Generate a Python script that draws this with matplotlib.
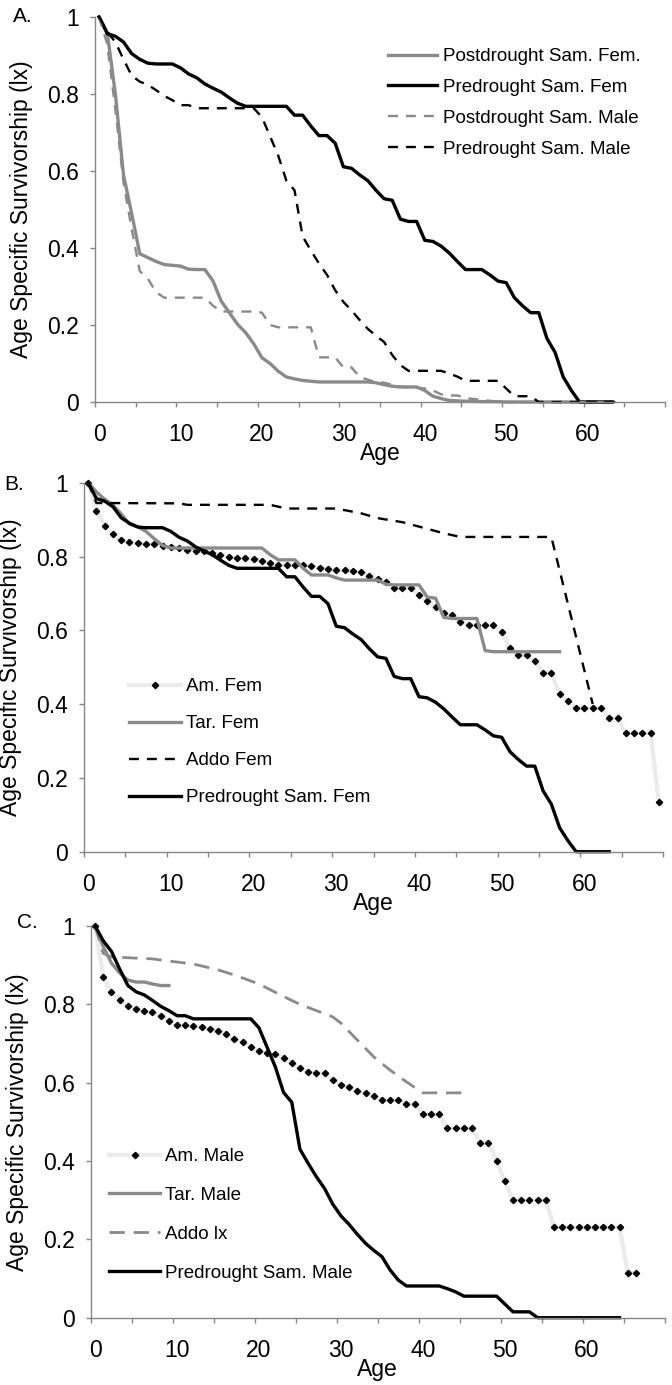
import numpy as np
import matplotlib.pyplot as plt
from matplotlib.lines import Line2D

plt.rcParams['font.family'] = ['Liberation Sans', 'DejaVu Sans']

# ---------------- data (lx) ----------------
# Samburu, one value per year of age
pre_fem_lx = [1.0, .957, .950, .935, .905, .890, .880, .878, .878, .878,
              .868, .852, .842, .826, .815, .805, .790, .776, .768, .768,
              .768, .768, .768, .768, .745, .745, .717, .692, .692, .672,
              .611, .607, .590, .575, .550, .528, .524, .475, .469, .469,
              .420, .417, .405, .387, .365, .344, .344, .344, .330, .314,
              .310, .271, .250, .232, .232, .165, .129, .065, .030, 0.0,
              0.0, 0.0, 0.0, 0.0]
pre_male_lx = [1.0, .962, .935, .890, .848, .832, .824, .810, .795, .784,
               .771, .771, .763, .763, .763, .763, .763, .763, .763, .763,
               .740, .690, .640, .575, .550, .430, .394, .360, .330, .290,
               .260, .238, .213, .190, .172, .156, .122, .096, .081, .081,
               .081, .081, .081, .074, .066, .055, .055, .055, .055, .055,
               .035, .015, .015, .015, 0.0, 0.0, 0.0, 0.0, 0.0, 0.0,
               0.0, 0.0, 0.0, 0.0, 0.0]
post_fem_lx = [1.0, .960, .800, .590, .490, .385, .375, .365, .357, .355,
               .353, .345, .344, .344, .314, .262, .232, .202, .180, .151,
               .115, .100, .080, .065, .060, .056, .054, .052, .052, .052,
               .052, .052, .052, .052, .050, .045, .041, .039, .039, .039,
               .030, .015, .009, .004, .003, .002, .002, .001, .001, .001,
               0.0, 0.0, 0.0, 0.0, 0.0, 0.0, 0.0, 0.0, 0.0, 0.0,
               0.0, 0.0, 0.0, 0.0]
post_male_lx = [1.0, .930, .760, .570, .450, .340, .320, .285, .271, .271,
                .271, .271, .271, .271, .250, .235, .235, .235, .235, .235,
                .232, .200, .194, .194, .194, .194, .194, .116, .116, .116,
                .090, .090, .065, .058, .052, .050, .045, .040, .038, .037,
                .035, .030, .020, .017, .017, .010, .008, .005, .003, .001,
                0.0, 0.0, 0.0, 0.0, 0.0, 0.0, 0.0, 0.0, 0.0, 0.0,
                0.0, 0.0, 0.0, 0.0]

# Amboseli, Tarangire, Addo females
am_fem_lx = [1.0, .924, .884, .860, .845, .838, .836, .834, .834, .828,
             .825, .823, .818, .816, .814, .809, .805, .800, .795, .795,
             .793, .789, .782, .777, .777, .777, .777, .773, .768, .766,
             .764, .764, .760, .759, .746, .740, .730, .714, .714, .714,
             .696, .680, .664, .646, .642, .623, .614, .614, .614, .614,
             .596, .551, .533, .533, .518, .484, .484, .427, .409, .389,
             .389, .389, .389, .362, .362, .322, .322, .322, .322, .135]
tar_fem_lx = [1.0, .975, .955, .940, .915, .888, .880, .868, .848, .830,
              .823, .823, .823, .823, .823, .823, .823, .823, .823, .823,
              .823, .823, .805, .791, .791, .791, .768, .750, .750, .750,
              .742, .736, .736, .736, .736, .736, .725, .723, .723, .723,
              .723, .690, .687, .635, .632, .632, .632, .632, .545, .542,
              .542, .542, .542, .542, .542, .542, .542, .542]
addo_fem_age = [0, 1, 11, 12, 22, 24, 30, 33, 35, 38, 40, 43, 45, 56, 61]
addo_fem_lx = [1.0, .945, .944, .940, .940, .930, .930, .917, .904, .893,
               .881, .863, .853, .853, .400]

# Amboseli, Tarangire, Addo males
am_male_lx = [1.0, .871, .831, .810, .797, .788, .784, .780, .771, .758,
              .746, .746, .745, .741, .737, .733, .724, .711, .703, .690,
              .681, .677, .673, .664, .651, .637, .628, .624, .624, .607,
              .594, .588, .580, .573, .565, .556, .556, .556, .546, .546,
              .520, .520, .520, .484, .484, .484, .484, .447, .447, .400,
              .350, .300, .300, .300, .300, .300, .232, .232, .232, .232,
              .232, .232, .232, .232, .232, .115, .115]
tar_male_lx = [1.0, .947, .905, .880, .862, .857, .857, .852, .848, .848]
addo_male_age = [0, 1, 2, 7, 10, 12, 15, 17, 20, 23, 25, 29, 30, 32, 34,
                 36, 38, 40, 45]
addo_male_lx = [1.0, .930, .921, .916, .908, .903, .888, .875, .852, .820,
                .800, .768, .752, .709, .666, .632, .602, .574, .574]

x_label_ages = [0, 10, 20, 30, 40, 50, 60]
lx_ticks = [0, 0.2, 0.4, 0.6, 0.8, 1]
lx_tick_labels = ['0', '0.2', '0.4', '0.6', '0.8', '1']

# ---------------- styles ----------------
GREY = '#8a8a8a'
LIGHT = '#ebebeb'
AXIS = '#868686'
W, H = 672, 1385


def px_axes(left, right, top, bottom):
    return [left / W, 1 - bottom / H, (right - left) / W, (bottom - top) / H]


def style_axes(ax, width_px, height_px):
    for s in ['top', 'right']:
        ax.spines[s].set_visible(False)
    for s in ['left', 'bottom']:
        ax.spines[s].set_color(AXIS)
        ax.spines[s].set_linewidth(1.0)
    # category style axis: points in the middle of each one-year slot
    ax.set_xlim(-0.5, 69.5)
    ax.set_ylim(0, 1)
    ax.set_xticks(np.arange(-0.5, 70, 5))
    ax.set_xticklabels([])
    ax.set_xticks(x_label_ages, minor=True)
    ax.set_xticklabels([str(a) for a in x_label_ages], minor=True)
    ax.set_yticks(lx_ticks)
    ax.set_yticklabels(lx_tick_labels)
    ax.tick_params(axis='x', which='major', direction='out', length=3.5,
                   width=1.0, color=AXIS)
    ax.tick_params(axis='x', which='minor', length=0, pad=15, labelsize=16.5)
    ax.tick_params(axis='y', direction='out', length=3.5, width=1.0,
                   color=AXIS, pad=8, labelsize=16.5)
    ax.set_xlabel('Age', fontsize=16.5)
    ax.xaxis.set_label_coords(0.5, -40 / height_px)
    ax.set_ylabel('Age Specific Survivorship (lx)', fontsize=16.5)
    ax.yaxis.set_label_coords(-62 / width_px, 0.5)


fig = plt.figure(figsize=(W / 100, H / 100), dpi=100)

solid = dict(lw=2.4, solid_joinstyle='round', clip_on=False)
dash_k = dict(lw=1.7, ls=(0, (4.2, 3.4)), clip_on=False)

# ---------------- A. ----------------
axA = fig.add_axes(px_axes(95, 665, 17, 402))
axA.plot(np.arange(len(post_fem_lx)), post_fem_lx, color=GREY, **solid)
axA.plot(np.arange(len(pre_fem_lx)), pre_fem_lx, color='black', **solid)
axA.plot(np.arange(len(post_male_lx)), post_male_lx, color=GREY, **dash_k)
axA.plot(np.arange(len(pre_male_lx)), pre_male_lx, color='black', **dash_k)
style_axes(axA, 570, 385)
axA.legend(['Postdrought Sam. Fem.', 'Predrought Sam. Fem',
            'Postdrought Sam. Male', 'Predrought Sam. Male'],
           loc='upper left', bbox_to_anchor=(388 / W, 1 - 48 / H),
           bbox_transform=fig.transFigure, frameon=False, fontsize=13.5,
           handlelength=2.6, handletextpad=0.32, labelspacing=0.73,
           borderpad=0, borderaxespad=0)
fig.text(23 / W, 1 - 16 / H, 'A.', fontsize=15, ha='center', va='center')

# ---------------- B. ----------------
axB = fig.add_axes(px_axes(84, 663, 482.7, 851.7))
axB.plot(np.arange(len(am_fem_lx)), am_fem_lx, color=LIGHT, lw=3,
         marker='D', ms=3.2, mfc='black', mec='black', clip_on=False)
axB.plot(np.arange(len(tar_fem_lx)), tar_fem_lx, color=GREY, **solid)
axB.plot(addo_fem_age, addo_fem_lx, color='black', **dash_k)
axB.plot(np.arange(len(pre_fem_lx)), pre_fem_lx, color='black', **solid)
style_axes(axB, 579, 369)
axB.legend(['Am. Fem', 'Tar. Fem', 'Addo Fem', 'Predrought Sam. Fem'],
           loc='upper left', bbox_to_anchor=(129 / W, 1 - 678 / H),
           bbox_transform=fig.transFigure, frameon=False, fontsize=13.5,
           handlelength=2.75, handletextpad=0.27, labelspacing=1.06,
           borderpad=0, borderaxespad=0)
fig.text(14 / W, 1 - 484 / H, 'B.', fontsize=15, ha='center', va='center')

# ---------------- C. ----------------
axC = fig.add_axes(px_axes(91, 664.6, 926, 1317.7))
axC.plot(np.arange(len(am_male_lx)), am_male_lx, color=LIGHT, lw=3,
         marker='D', ms=3.2, mfc='black', mec='black', clip_on=False)
axC.plot(np.arange(len(tar_male_lx)), tar_male_lx, color=GREY, **solid)
axC.plot(addo_male_age, addo_male_lx, color=GREY, lw=2.0,
         ls=(0, (5.5, 3.2)), clip_on=False)
axC.plot(np.arange(len(pre_male_lx)), pre_male_lx, color='black', **solid)
style_axes(axC, 573.6, 391.7)
axC.legend(['Am. Male', 'Tar. Male', 'Addo lx', 'Predrought Sam. Male'],
           loc='upper left', bbox_to_anchor=(109 / W, 1 - 1148 / H),
           bbox_transform=fig.transFigure, frameon=False, fontsize=13.5,
           handlelength=2.74, handletextpad=0.23, labelspacing=1.16,
           borderpad=0, borderaxespad=0)
fig.text(27 / W, 1 - 923 / H, 'C.', fontsize=15, ha='center', va='center')

fig.savefig('out.png', dpi=100)
